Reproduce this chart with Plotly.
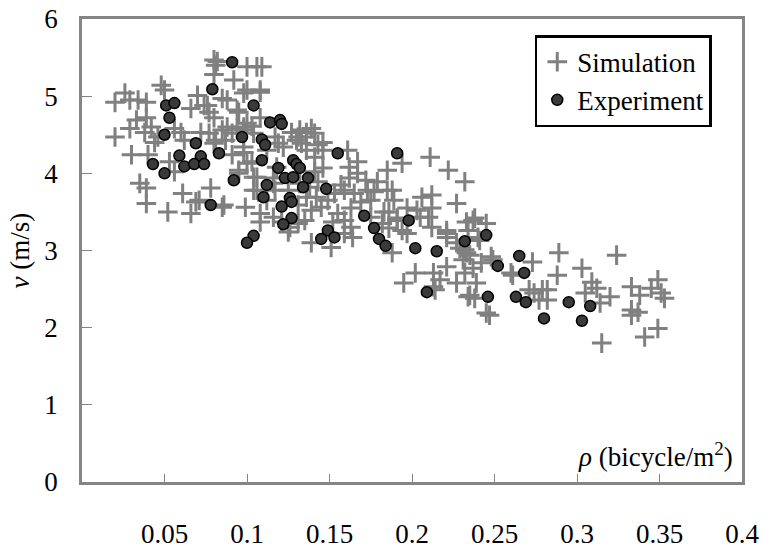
import plotly.graph_objects as go

# Simulation (density, speed)
sim_rho = [
    0.080, 0.082, 0.081, 0.080, 0.106, 0.109, 0.100, 0.092, 0.100, 0.108,
    0.048, 0.050, 0.026, 0.020, 0.029, 0.034, 0.039, 0.070, 0.066, 0.074,
    0.077, 0.085, 0.088, 0.080, 0.033, 0.029, 0.039, 0.042, 0.038, 0.020,
    0.046, 0.056, 0.060, 0.072, 0.077, 0.085, 0.088, 0.091, 0.062, 0.080,
    0.030, 0.040, 0.053, 0.087, 0.035, 0.039, 0.039, 0.052, 0.061, 0.066,
    0.069, 0.078, 0.086, 0.056, 0.076, 0.095, 0.108, 0.132, 0.136, 0.094,
    0.098, 0.103, 0.081, 0.091, 0.098, 0.100, 0.112, 0.122, 0.118, 0.130,
    0.136, 0.095, 0.106, 0.116, 0.104, 0.099, 0.108, 0.116, 0.126, 0.085,
    0.071, 0.044,
    0.098, 0.108, 0.094, 0.100, 0.098, 0.104, 0.117, 0.127, 0.131, 0.136,
    0.141, 0.133, 0.143, 0.146, 0.119, 0.098, 0.103, 0.095, 0.104, 0.106,
    0.116, 0.117, 0.141, 0.146, 0.141, 0.143, 0.138, 0.136, 0.142, 0.149,
    0.145, 0.139, 0.131, 0.153, 0.157, 0.161, 0.167, 0.162, 0.167, 0.162,
    0.172, 0.159, 0.165, 0.173, 0.175, 0.169, 0.163, 0.155, 0.152, 0.159,
    0.163, 0.164, 0.159, 0.151, 0.139, 0.125, 0.121, 0.108, 0.112, 0.125,
    0.132, 0.135, 0.131, 0.175, 0.139, 0.146,
    0.211, 0.222, 0.232, 0.227, 0.206, 0.212, 0.194, 0.185, 0.179, 0.185,
    0.188, 0.177, 0.197, 0.203, 0.212, 0.186, 0.191, 0.182, 0.212, 0.205,
    0.197, 0.188, 0.202, 0.213, 0.195, 0.213, 0.217, 0.221, 0.227, 0.235,
    0.239, 0.237, 0.233, 0.229, 0.227, 0.221, 0.237, 0.245, 0.241, 0.249,
    0.245, 0.189, 0.183, 0.191, 0.210, 0.186, 0.194, 0.221, 0.221, 0.233,
    0.238, 0.234, 0.240, 0.232, 0.235, 0.231, 0.242, 0.248, 0.232, 0.214,
    0.234, 0.238, 0.247, 0.260, 0.273, 0.274, 0.279, 0.271,
    0.289, 0.324, 0.288, 0.303, 0.309, 0.312, 0.320, 0.305, 0.314, 0.282,
    0.282, 0.333, 0.338, 0.349, 0.345, 0.351, 0.353, 0.333, 0.333, 0.337,
    0.349, 0.341, 0.315, 0.261, 0.277,
]
sim_v = [
    5.47, 5.45, 5.40, 5.28, 5.38, 5.38, 5.38, 5.21, 5.08, 5.08,
    5.14, 5.08, 5.04, 4.92, 4.95, 4.95, 4.92, 5.01, 4.84, 4.88,
    4.79, 4.97, 4.95, 4.72, 4.69, 4.58, 4.72, 4.60, 4.53, 4.47,
    4.47, 4.58, 4.53, 4.53, 4.52, 4.56, 4.60, 4.52, 4.43, 4.39,
    4.24, 4.24, 4.15, 4.43, 3.87, 3.81, 3.61, 3.50, 3.74, 3.48,
    3.63, 3.81, 3.59, 4.02, 4.88, 4.79, 4.72, 4.56, 4.47, 4.58,
    4.60, 4.61, 4.43, 4.24, 4.34, 4.13, 4.30, 4.34, 4.08, 4.43,
    4.30, 4.00, 3.95, 3.87, 3.78, 3.56, 3.48, 3.43, 3.30, 3.56,
    3.65, 4.40,
    5.04, 5.05, 4.82, 4.65, 4.56, 4.52, 4.47, 4.53, 4.47, 4.53,
    4.52, 4.39, 4.37, 4.30, 4.39, 4.27, 4.15, 4.04, 3.95, 3.78,
    3.94, 3.78, 4.21, 4.07, 4.02, 3.89, 3.82, 3.69, 3.69, 3.65,
    3.56, 3.52, 3.59, 3.74, 3.85, 4.30, 4.15, 4.08, 4.00, 3.94,
    3.91, 3.78, 3.74, 3.78, 3.65, 3.63, 3.55, 3.48, 3.37, 3.39,
    3.30, 3.17, 3.22, 3.04, 3.10, 3.24, 3.37, 3.37, 3.65, 3.78,
    3.87, 3.39, 3.35, 3.43, 4.58, 4.40,
    4.21, 4.04, 3.89, 3.61, 3.69, 3.72, 4.13, 4.04, 3.89, 3.78,
    3.78, 3.76, 3.55, 3.52, 3.55, 3.50, 3.39, 3.35, 3.30, 3.43,
    3.22, 2.97, 2.71, 2.71, 2.58, 2.53, 2.62, 2.79, 2.58, 2.42,
    2.58, 2.77, 2.97, 3.03, 3.10, 3.22, 3.39, 3.35, 3.13, 2.88,
    2.19, 3.65, 3.50, 3.42, 3.43, 3.29, 3.26, 3.26, 3.17, 3.37,
    3.42, 3.26, 3.17, 3.01, 2.94, 2.88, 2.84, 2.92, 2.71, 2.49,
    2.40, 2.38, 2.16, 2.71, 2.85, 2.45, 2.49, 2.49,
    2.97, 2.94, 2.68, 2.77, 2.59, 2.51, 2.40, 2.45, 2.32, 2.49,
    2.36, 2.53, 2.42, 2.62, 2.51, 2.45, 2.38, 2.23, 2.16, 2.20,
    1.99, 1.88, 1.80, 2.68, 2.36,
]

# Experiment (density, speed)
exp_rho = [
    0.091, 0.079, 0.104, 0.051, 0.056, 0.053, 0.050, 0.097, 0.114, 0.120,
    0.121, 0.109, 0.111, 0.069, 0.083, 0.059, 0.072, 0.043, 0.062, 0.068,
    0.074, 0.050, 0.109, 0.092, 0.078, 0.119, 0.128, 0.130, 0.132, 0.123,
    0.128, 0.137, 0.134, 0.112, 0.155, 0.148, 0.110, 0.126, 0.127, 0.121,
    0.127, 0.122, 0.104, 0.100, 0.149, 0.145, 0.153, 0.171, 0.177, 0.191,
    0.198, 0.180, 0.184, 0.202, 0.215, 0.232, 0.245, 0.209, 0.252, 0.265,
    0.268, 0.246, 0.263, 0.269, 0.280, 0.295, 0.308, 0.303,
]
exp_v = [
    5.44, 5.09, 4.88, 4.88, 4.91, 4.72, 4.50, 4.47, 4.66, 4.69,
    4.64, 4.44, 4.37, 4.39, 4.26, 4.23, 4.22, 4.12, 4.09, 4.12,
    4.12, 4.00, 4.17, 3.91, 3.59, 4.07, 4.17, 4.12, 4.07, 3.94,
    3.95, 3.94, 3.82, 3.85, 4.26, 3.80, 3.69, 3.68, 3.63, 3.57,
    3.42, 3.34, 3.19, 3.10, 3.26, 3.15, 3.17, 3.45, 3.29, 4.26,
    3.39, 3.15, 3.06, 3.03, 2.99, 3.12, 3.20, 2.46, 2.80, 2.93,
    2.71, 2.40, 2.40, 2.33, 2.12, 2.33, 2.28, 2.09,
]

x_ticks = [0.05, 0.1, 0.15, 0.2, 0.25, 0.3, 0.35, 0.4]
x_tick_text = ["0.05", "0.1", "0.15", "0.2", "0.25", "0.3", "0.35", "0.4"]
y_ticks = [0, 1, 2, 3, 4, 5, 6]

FONT = "Liberation Serif"
SPINE = "#858585"

fig = go.Figure()
fig.add_trace(go.Scatter(
    x=sim_rho, y=sim_v, mode="markers", name="Simulation",
    marker=dict(symbol="cross-thin-open", size=14,
                line=dict(color="#808080", width=3), color="#808080"),
))
fig.add_trace(go.Scatter(
    x=exp_rho, y=exp_v, mode="markers", name="Experiment",
    marker=dict(symbol="circle", size=11, color="#3a3a3a",
                line=dict(color="#000000", width=1.5)),
))

fig.update_layout(
    width=765, height=551,
    margin=dict(l=82, r=23, t=19, b=69, autoexpand=False),
    paper_bgcolor="white", plot_bgcolor="white",
    font=dict(family=FONT, size=27, color="black"),
    showlegend=True,
    legend=dict(
        x=0.686, y=0.965, xanchor="left", yanchor="top",
        bgcolor="white", bordercolor="black", borderwidth=2.5,
        font=dict(family=FONT, size=27, color="black"),
        itemsizing="trace", itemwidth=30,
    ),
    xaxis=dict(
        range=[0, 0.4], tickvals=x_ticks, ticktext=x_tick_text,
        ticks="inside", ticklen=8, tickwidth=1, tickcolor=SPINE,
        showline=True, linecolor=SPINE, linewidth=2.5, mirror=True,
        showgrid=False, zeroline=False, automargin=False,
        ticklabelstandoff=26,
        tickfont=dict(family=FONT, size=27, color="black"),
    ),
    yaxis=dict(
        range=[0, 6], tickvals=y_ticks,
        ticks="inside", ticklen=10, tickwidth=1, tickcolor=SPINE,
        showline=True, linecolor=SPINE, linewidth=2.5, mirror=True,
        showgrid=False, zeroline=False, automargin=False,
        ticklabelstandoff=16,
        tickfont=dict(family=FONT, size=27, color="black"),
    ),
)

fig.add_annotation(
    text="<i>v</i> (m/s)",
    xref="paper", yref="paper", x=-0.094, y=0.5,
    xanchor="center", yanchor="middle", textangle=-90, showarrow=False,
    font=dict(family=FONT, size=27, color="black"),
)

fig.add_annotation(
    text="<i>ρ</i> (bicycle/m<sup>2</sup>)",
    xref="paper", yref="paper", x=0.99, y=0.058,
    xanchor="right", yanchor="middle", showarrow=False,
    font=dict(family=FONT, size=27, color="black"),
)

fig.write_html("out.html")
